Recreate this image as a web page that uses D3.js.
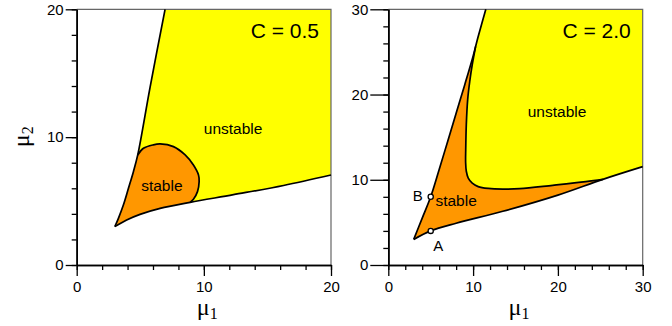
<!DOCTYPE html>
<html><head><meta charset="utf-8">
<script src="https://cdn.jsdelivr.net/npm/d3@7"></script>
<style>body{margin:0;background:#fff}svg{display:block}</style>
</head><body>
<svg id="chart" width="672" height="326"></svg>
<script>
// ---- C = 0.5 ----
const titleA = "C = 0.5";
const upperA = [[3,3],[3.28,3.65],[3.67,4.69],[4.07,6.0],[4.46,7.3],[4.80,8.61],[5.77,13.9],[6.95,20]];
const lowerA = [[3,3],[3.93,3.52],[4.98,3.96],[6.56,4.43],[8.92,4.90],[12.33,5.5],[16.27,6.22],[20,7.04]];
const stableArcA = [[4.80,8.61],[5.25,9.13],[6.03,9.40],[6.56,9.47],[7.61,9.26],[8.53,8.61],[9.18,7.82],[9.58,7.04],[9.63,6.52],[9.50,5.74],[9.18,5.14],[8.92,4.90]];
const ticksA = [0, 10, 20];

// ---- C = 2.0 ----
const titleB = "C = 2.0";
const upperB = [[3,3],[4,5.5],[5,8],[6,11.2],[7,14.5],[8,17.8],[9,21.1],[10,24.5],[10.3,25.65],[10.6,26.8],[11.5,30]];
const lowerB = [[3,3],[5,4],[8,4.9],[13.5,6.3],[20,8.2],[25.3,10.05],[30,11.54]];
const unstableArcB = [[10.3,25.65],[9.9,23.5],[9.6,21.5],[9.36,19.4],[9.2,16.5],[9.13,13.5],[9.12,12],[9.2,11],[9.43,10.2],[9.9,9.6],[10.6,9.2],[11.8,8.98],[13.5,8.9],[15.5,8.95],[19.4,9.35],[23.3,9.78],[25.3,10.05]];
const pointsB = [{name:"A", x:5, y:4}, {name:"B", x:5, y:8}];
const ticksB = [0, 10, 20, 30];

const YELLOW = "#ffff00", ORANGE = "#ff9700";
const svg = d3.select("#chart");
const sans = "'Liberation Sans', Arial, Helvetica, sans-serif";
const serif = "'Liberation Serif', 'Times New Roman', serif";

function panel(opt) {
  const x = d3.scaleLinear().domain([0, opt.max]).range([opt.left, opt.right]);
  const y = d3.scaleLinear().domain([0, opt.max]).range([265, 9.3]);
  const g = svg.append("g");
  const smooth = d3.line().x(d => x(d[0])).y(d => y(d[1])).curve(d3.curveCatmullRom.alpha(0.5));
  const straight = d3.line().x(d => x(d[0])).y(d => y(d[1]));
  // join several segments into one closed outline
  const outline = segs => segs.map((s, i) => {
    const p = (s.lin ? straight : smooth)(s.pts);
    return i ? "L" + p.slice(1) : p;
  }).join("") + "Z";
  opt.fills(outline, g, x, y);

  // frame: grey top and right edges
  g.append("path")
    .attr("d", `M${x(0)},${y(opt.max)}H${x(opt.max)}V${y(0)}`)
    .attr("fill", "none").attr("stroke", "#666").attr("stroke-width", 1.2);

  // boundary curves
  opt.curves.forEach(c => g.append("path").attr("d", smooth(c))
    .attr("fill", "none").attr("stroke", "#000").attr("stroke-width", 1.7)
    .attr("stroke-linejoin", "round"));

  // axes
  const minor = d3.range(0, opt.max + 0.01, 2);
  const gx = g.append("g").attr("transform", `translate(0,${y(0)})`);
  gx.call(d3.axisBottom(x).tickValues(minor).tickSize(5).tickSizeOuter(0).tickFormat(""));
  gx.append("g").call(d3.axisBottom(x).tickValues(opt.ticks).tickSize(11).tickSizeOuter(0).tickPadding(5));
  const gy = g.append("g").attr("transform", `translate(${x(0)},0)`);
  gy.call(d3.axisLeft(y).tickValues(minor).tickSize(5).tickSizeOuter(0).tickFormat(""));
  gy.append("g").call(d3.axisLeft(y).tickValues(opt.ticks).tickSize(opt.majorY).tickSizeOuter(0).tickPadding(2));
  g.selectAll(".domain").attr("stroke", "#000").attr("stroke-width", 1.6);
  g.selectAll(".tick line").attr("stroke", "#000").attr("stroke-width", 1.3);
  g.selectAll(".tick text").attr("font-family", sans).attr("font-size", 15).attr("fill", "#000");

  // title
  g.append("text").attr("x", x(opt.max) - 12).attr("y", 38).attr("text-anchor", "end")
    .attr("font-family", sans).attr("font-size", 21).text(opt.title);

  // region labels
  opt.labels.forEach(l => g.append("text").attr("x", x(l.x)).attr("y", y(l.y))
    .attr("text-anchor", "middle").attr("font-family", sans).attr("font-size", 15.5).text(l.t));

  // axis titles
  const xt = g.append("text").attr("x", (x(0) + x(opt.max)) / 2 - 7).attr("y", 315)
    .attr("font-family", serif).attr("font-size", 24);
  xt.append("tspan").text("\u03bc");
  xt.append("tspan").attr("font-size", 16).attr("dy", 4).text("1");
  if (opt.ylabel) {
    const yt = g.append("text").attr("transform", `translate(29,${(y(0) + y(opt.max)) / 2 + 10}) rotate(-90)`)
      .attr("font-family", serif).attr("font-size", 24);
    yt.append("tspan").text("\u03bc");
    yt.append("tspan").attr("font-size", 16).attr("dy", 4).text("2");
  }
  return {g, x, y};
}

panel({
  max: 20, left: 76.7, right: 331, ticks: ticksA, majorY: 11, title: titleA, ylabel: true,
  fills: (outline, g) => {
    g.append("path").attr("fill", YELLOW).attr("d", outline([
      {pts: upperA}, {lin: true, pts: [[6.95,20],[20,20],[20,7.04]]}, {pts: lowerA.slice().reverse()}]));
    const iA = upperA.findIndex(p => p[0] === stableArcA[0][0]);
    const iB = lowerA.findIndex(p => p[0] === stableArcA[stableArcA.length - 1][0]);
    g.append("path").attr("fill", ORANGE).attr("d", outline([
      {pts: upperA.slice(0, iA + 1)}, {pts: stableArcA}, {pts: lowerA.slice(0, iB + 1).reverse()}]));
  },
  curves: [upperA, lowerA, stableArcA],
  labels: [{t: "unstable", x: 12.3, y: 10.25}, {t: "stable", x: 6.7, y: 5.8}]
});

const pB = panel({
  max: 30, left: 388.3, right: 642.7, ticks: ticksB, majorY: 18, title: titleB, ylabel: false,
  fills: (outline, g) => {
    g.append("path").attr("fill", ORANGE).attr("d", outline([
      {pts: upperB}, {lin: true, pts: [[11.5,30],[30,30],[30,11.54]]}, {pts: lowerB.slice().reverse()}]));
    const iU = upperB.findIndex(p => p[0] === unstableArcB[0][0]);
    const iL = lowerB.findIndex(p => p[0] === unstableArcB[unstableArcB.length - 1][0]);
    g.append("path").attr("fill", YELLOW).attr("d", outline([
      {pts: upperB.slice(iU)}, {lin: true, pts: [[11.5,30],[30,30],[30,11.54]]},
      {pts: lowerB.slice(iL).reverse()}, {pts: unstableArcB.slice().reverse()}]));
  },
  curves: [upperB, lowerB, unstableArcB],
  labels: [{t: "unstable", x: 19.9, y: 17.4}, {t: "stable", x: 8, y: 6.9}]
});

// marked points A and B
pB.g.selectAll("circle").data(pointsB).join("circle")
  .attr("cx", d => pB.x(d.x)).attr("cy", d => pB.y(d.y)).attr("r", 2.6)
  .attr("fill", "#fff").attr("stroke", "#000").attr("stroke-width", 1.3);
pB.g.selectAll("text.pt").data(pointsB).join("text").attr("class", "pt")
  .attr("x", d => pB.x(d.x) + (d.name === "A" ? 7.5 : -13))
  .attr("y", d => pB.y(d.y) + (d.name === "A" ? 20 : 4))
  .attr("text-anchor", "middle").attr("font-family", sans).attr("font-size", 15).text(d => d.name);
</script>
</body></html>
